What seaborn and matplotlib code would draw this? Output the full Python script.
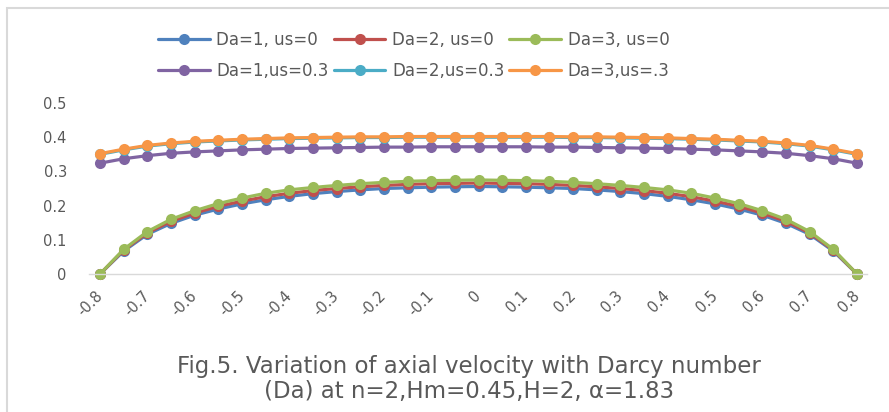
import numpy as np
import pandas as pd
import matplotlib
matplotlib.use('Agg')
import matplotlib.pyplot as plt
from matplotlib.patches import Rectangle
import seaborn as sns

# Data (x from -0.8 to 0.8, step 0.05)
x = [-0.8, -0.75, -0.7, -0.65, -0.6, -0.55, -0.5, -0.45, -0.4, -0.35, -0.3,
     -0.25, -0.2, -0.15, -0.1, -0.05, 0.0, 0.05, 0.1, 0.15, 0.2, 0.25, 0.3,
     0.35, 0.4, 0.45, 0.5, 0.55, 0.6, 0.65, 0.7, 0.75, 0.8]

da1_us0 = [0, 0.067, 0.116, 0.148, 0.172, 0.190, 0.205, 0.217, 0.227, 0.235, 0.241,
           0.246, 0.250, 0.252, 0.254, 0.255, 0.256, 0.255, 0.254, 0.252, 0.250, 0.246,
           0.241, 0.235, 0.227, 0.217, 0.205, 0.190, 0.172, 0.148, 0.116, 0.067, 0]
da2_us0 = [0, 0.070, 0.120, 0.154, 0.178, 0.198, 0.213, 0.226, 0.236, 0.244, 0.250,
           0.255, 0.259, 0.262, 0.264, 0.265, 0.266, 0.265, 0.264, 0.262, 0.259, 0.255,
           0.250, 0.244, 0.236, 0.226, 0.213, 0.198, 0.178, 0.154, 0.120, 0.070, 0]
da3_us0 = [0, 0.072, 0.124, 0.160, 0.185, 0.206, 0.222, 0.236, 0.246, 0.253, 0.259,
           0.264, 0.268, 0.271, 0.273, 0.274, 0.275, 0.274, 0.273, 0.271, 0.268, 0.264,
           0.259, 0.253, 0.246, 0.236, 0.222, 0.206, 0.185, 0.160, 0.124, 0.072, 0]
da1_us03 = [0.324, 0.337, 0.346, 0.353, 0.357, 0.360, 0.363, 0.365, 0.367, 0.368, 0.369,
            0.370, 0.371, 0.371, 0.372, 0.372, 0.372, 0.372, 0.372, 0.371, 0.371, 0.370,
            0.369, 0.368, 0.367, 0.365, 0.363, 0.360, 0.357, 0.353, 0.346, 0.337, 0.324]
da2_us03 = [0.350, 0.363, 0.374, 0.381, 0.386, 0.389, 0.392, 0.394, 0.396, 0.397, 0.398,
            0.399, 0.399, 0.400, 0.400, 0.400, 0.400, 0.400, 0.400, 0.400, 0.399, 0.399,
            0.398, 0.397, 0.396, 0.394, 0.392, 0.389, 0.386, 0.381, 0.374, 0.363, 0.350]
da3_us03 = [0.352, 0.365, 0.376, 0.383, 0.388, 0.391, 0.394, 0.396, 0.398, 0.399, 0.400,
            0.401, 0.401, 0.402, 0.402, 0.402, 0.402, 0.402, 0.402, 0.402, 0.401, 0.401,
            0.400, 0.399, 0.398, 0.396, 0.394, 0.391, 0.388, 0.383, 0.376, 0.365, 0.352]

labels = ['Da=1, us=0', 'Da=2, us=0', 'Da=3, us=0',
          'Da=1,us=0.3', 'Da=2,us=0.3', 'Da=3,us=.3']
colors = ['#4F81BD', '#C0504D', '#9BBB59', '#8064A2', '#4BACC6', '#F79646']
xticks = [-0.8, -0.7, -0.6, -0.5, -0.4, -0.3, -0.2, -0.1, 0, 0.1, 0.2, 0.3, 0.4, 0.5, 0.6, 0.7, 0.8]
xticklabels = ['-0.8', '-0.7', '-0.6', '-0.5', '-0.4', '-0.3', '-0.2', '-0.1', '0',
               '0.1', '0.2', '0.3', '0.4', '0.5', '0.6', '0.7', '0.8']
yticks = [0, 0.1, 0.2, 0.3, 0.4, 0.5]
yticklabels = ['0', '0.1', '0.2', '0.3', '0.4', '0.5']

series = [da1_us0, da2_us0, da3_us0, da1_us03, da2_us03, da3_us03]
df = pd.concat([pd.DataFrame({'x': x, 'u': s, 'case': lab}) for s, lab in zip(series, labels)],
               ignore_index=True)

sns.set_style('white')
plt.rcParams['font.family'] = ['DejaVu Sans']
grey = '#595959'

fig = plt.figure(figsize=(8.89, 4.12), dpi=100)
ax = fig.add_axes([89 / 889, 1 - 274 / 412, 778 / 889, 171 / 412])

sns.lineplot(data=df, x='x', y='u', hue='case', hue_order=labels, palette=colors,
             marker='o', markersize=8, markeredgewidth=0, linewidth=2.3, ax=ax,
             clip_on=False)

ax.set_xlim(-0.8 - 11 / 473, 0.8 + 10 / 473)
ax.set_ylim(0, 0.5)
ax.set_xticks(xticks)
ax.set_xticklabels(xticklabels, rotation=45, ha='right', va='center',
                   rotation_mode='anchor', fontsize=10.5, color=grey)
ax.set_yticks(yticks)
ax.set_yticklabels(yticklabels, fontsize=10.5, color=grey)
ax.tick_params(axis='x', length=0, pad=14)
ax.tick_params(axis='y', length=0, pad=16)
ax.set_xlabel('')
ax.set_ylabel('')
for side in ['top', 'right', 'left']:
    ax.spines[side].set_visible(False)
ax.spines['bottom'].set_color('#D9D9D9')
ax.spines['bottom'].set_linewidth(1)

# legend: two rows of three, filled column by column
handles, labs = ax.get_legend_handles_labels()
order = [0, 3, 1, 4, 2, 5]
ax.legend([handles[i] for i in order], [labs[i] for i in order], ncol=3,
          loc='upper left', bbox_to_anchor=(158 / 889, 1 - 31 / 412),
          bbox_transform=fig.transFigure, frameon=False, fontsize=12,
          handlelength=3.1, handletextpad=0.4, columnspacing=0.3,
          labelspacing=0.8, borderpad=0, borderaxespad=0, labelcolor=grey)

# caption
fig.text(0.528, 1 - 373 / 412, 'Fig.5. Variation of axial velocity with Darcy number',
         ha='center', va='baseline', fontsize=16.5, color=grey)
fig.text(0.528, 1 - 398 / 412, '(Da) at n=2,Hm=0.45,H=2, \u03b1=1.83',
         ha='center', va='baseline', fontsize=16.5, color=grey)

# chart border
fig.patches.append(Rectangle((7 / 889, -0.05), 1.1, 1 - 8 / 412 + 0.05,
                             transform=fig.transFigure, fill=False,
                             edgecolor='#D9D9D9', linewidth=1.5))

fig.savefig('out.png', dpi=100)
plt.close()
